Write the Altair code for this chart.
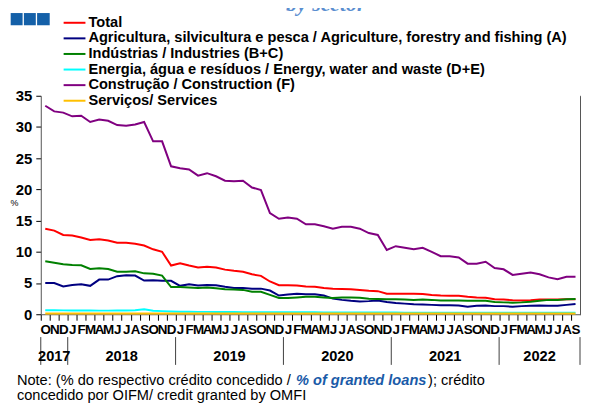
import altair as alt
import pandas as pd

FONT = "Liberation Sans"

month_letters = ["O", "N", "D",
                 "J", "F", "M", "A", "M", "J", "J", "A", "S", "O", "N", "D",
                 "J", "F", "M", "A", "M", "J", "J", "A", "S", "O", "N", "D",
                 "J", "F", "M", "A", "M", "J", "J", "A", "S", "O", "N", "D",
                 "J", "F", "M", "A", "M", "J", "J", "A", "S", "O", "N", "D",
                 "J", "F", "M", "A", "M", "J", "J", "A", "S"]

series_names = [
    "Total",
    "Agricultura, silvicultura e pesca / Agriculture, forestry and fishing (A)",
    "Indústrias / Industries (B+C)",
    "Energia, água e resíduos / Energy, water and waste (D+E)",
    "Construção / Construction  (F)",
    "Serviços/ Services",
]
series_colors = ["#ff0000", "#000080", "#008000", "#00ffff", "#800080", "#ffc000"]

total = [13.7, 13.4, 12.7, 12.6, 12.3, 11.9, 12.0, 11.8, 11.45, 11.45,
         11.3, 11.0, 10.4, 10.0, 7.8, 8.15, 7.8, 7.5, 7.6, 7.5,
         7.15, 6.95, 6.8, 6.4, 6.15, 5.25, 4.66, 4.66, 4.6, 4.45,
         4.4, 4.2, 4.1, 4.05, 4.0, 3.9, 3.75, 3.7, 3.3, 3.3,
         3.3, 3.3, 3.25, 3.1, 3.0, 2.95, 2.95, 2.8, 2.7, 2.65,
         2.4, 2.35, 2.25, 2.2, 2.25, 2.35, 2.35, 2.35, 2.4, 2.4]
agriculture = [5.0, 5.0, 4.45, 4.7, 4.8, 4.55, 5.55, 5.55, 6.1, 6.25,
               6.2, 5.4, 5.45, 5.35, 5.35, 4.55, 4.8, 4.6, 4.7, 4.65,
               4.4, 4.2, 4.2, 4.1, 4.1, 3.8, 3.0, 3.15, 3.3, 3.2,
               3.2, 3.0, 2.5, 2.3, 2.15, 2.05, 2.1, 2.2, 1.95, 1.8,
               1.7, 1.6, 1.55, 1.5, 1.45, 1.45, 1.4, 1.2, 1.35, 1.4,
               1.3, 1.3, 1.2, 1.3, 1.35, 1.4, 1.35, 1.35, 1.5, 1.65]
industries = [8.5, 8.25, 8.0, 7.9, 7.85, 7.25, 7.35, 7.25, 6.8, 6.8,
              6.9, 6.55, 6.5, 6.2, 4.35, 4.35, 4.3, 4.2, 4.3, 4.15,
              4.0, 3.95, 3.9, 3.6, 3.6, 3.1, 2.6, 2.6, 2.7, 2.8,
              2.8, 2.7, 2.6, 2.7, 2.7, 2.65, 2.5, 2.45, 2.4, 2.4,
              2.35, 2.3, 2.35, 2.3, 2.2, 2.2, 2.2, 2.15, 2.15, 2.15,
              1.95, 1.9, 1.85, 1.9, 2.0, 2.15, 2.3, 2.3, 2.4, 2.45]
energy = [0.65, 0.65, 0.62, 0.6, 0.6, 0.6, 0.58, 0.58, 0.6, 0.6,
          0.65, 0.8, 0.55, 0.5, 0.45, 0.4, 0.4, 0.38, 0.38, 0.35,
          0.35, 0.35, 0.33, 0.32, 0.3, 0.3, 0.3, 0.3, 0.3, 0.3,
          0.3, 0.28, 0.28, 0.28, 0.28, 0.28, 0.27, 0.27, 0.27, 0.27,
          0.25, 0.25, 0.25, 0.25, 0.25, 0.25, 0.25, 0.25, 0.25, 0.25,
          0.22, 0.22, 0.22, 0.22, 0.22, 0.22, 0.22, 0.22, 0.22, 0.22]
construction = [33.4, 32.5, 32.3, 31.7, 31.8, 30.8, 31.2, 31.0, 30.3, 30.2,
                30.4, 30.8, 27.7, 27.7, 23.7, 23.4, 23.2, 22.2, 22.6, 22.1,
                21.4, 21.3, 21.4, 20.3, 19.9, 16.2, 15.3, 15.5, 15.3, 14.4,
                14.4, 14.1, 13.7, 14.0, 14.0, 13.7, 13.0, 12.7, 10.3, 10.9,
                10.65, 10.4, 10.65, 10.0, 9.3, 9.3, 9.1, 8.1, 8.1, 8.4,
                7.4, 7.2, 6.3, 6.5, 6.7, 6.4, 5.9, 5.6, 6.0, 6.0]
services = [0.1, 0.1, 0.1, 0.1, 0.1, 0.1, 0.1, 0.1, 0.1, 0.1,
            0.1, 0.1, 0.1, 0.1, 0.1, 0.1, 0.1, 0.1, 0.1, 0.1,
            0.1, 0.1, 0.1, 0.1, 0.1, 0.1, 0.1, 0.1, 0.1, 0.1,
            0.1, 0.1, 0.1, 0.1, 0.1, 0.1, 0.1, 0.1, 0.1, 0.1,
            0.1, 0.1, 0.1, 0.1, 0.1, 0.1, 0.1, 0.1, 0.1, 0.1,
            0.1, 0.1, 0.1, 0.1, 0.1, 0.1, 0.1, 0.1, 0.1, 0.1]

year_labels = ["2017", "2018", "2019", "2020", "2021", "2022"]
year_centers = [1, 8.5, 20.5, 32.5, 44.5, 55]
year_bounds = [-0.5, 2.5, 14.5, 26.5, 38.5, 50.5, 59.5]

all_series = [total, agriculture, industries, energy, construction, services]
rows = []
for k, (name, vals) in enumerate(zip(series_names, all_series)):
    for i, v in enumerate(vals):
        rows.append({"i": i, "v": v, "series": name, "k": k})
df = pd.DataFrame(rows)

W, H = 540, 220
XR = 543
xscale = alt.Scale(domain=[-0.5, 59.5], range=[0, XR], nice=False, zero=False)
yscale = alt.Scale(domain=[0, 35], nice=False)

label_expr = "[" + ",".join("'%s'" % m for m in month_letters) + "][datum.value]"

x_axis = alt.Axis(values=list(range(60)), labelExpr=label_expr, title=None,
                  grid=False, labelAngle=0, labelOverlap=False, labelBound=False,
                  labelFlush=False, labelFont=FONT, labelFontSize=13.5,
                  labelFontWeight="bold", labelColor="#000000",
                  tickSize=6, tickOffset=-4.5, labelOffset=4.5, labelPadding=2,
                  tickColor="#000000", domainColor="#555555")

y_values = [0, 5, 10, 15, 20, 25, 30, 35]
y_axis = alt.Axis(values=y_values, grid=False, title="%",
                  titleAngle=0, titleX=-27, titleY=113, titleFont=FONT,
                  titleFontSize=9, titleFontWeight="normal", titleColor="#000000",
                  labelFont=FONT, labelFontSize=15, labelFontWeight="bold",
                  labelColor="#000000", tickSize=5, labelPadding=4,
                  tickColor="#000000", domainColor="#555555")

lines = alt.Chart(df).mark_line(strokeWidth=2).encode(
    x=alt.X("i:Q", scale=xscale, axis=x_axis),
    y=alt.Y("v:Q", scale=yscale, axis=y_axis),
    color=alt.Color("series:N",
                    scale=alt.Scale(domain=series_names, range=series_colors),
                    legend=alt.Legend(orient="none", legendX=26, legendY=-81.5,
                                      title=None, symbolType="M-1.57,0H1.57",
                                      symbolSize=196, symbolStrokeWidth=2,
                                      labelFont=FONT, labelFontSize=14.7,
                                      labelFontWeight="bold", labelColor="#000000",
                                      labelLimit=700, labelOffset=6, rowPadding=0.7,
                                      padding=0)),
    detail="k:O",
)

right_axis = alt.Chart(df).mark_line(strokeOpacity=0).encode(
    x=alt.X("i:Q", scale=xscale, axis=x_axis),
    y=alt.Y("v:Q", scale=yscale,
            axis=alt.Axis(orient="right", values=y_values, offset=3,
                          labels=False, title=None, grid=False, tickSize=5,
                          tickColor="#000000", domainColor="#555555")),
)

sep_df = pd.DataFrame({"b": year_bounds})
separators = alt.Chart(sep_df).mark_rule(color="#404040", strokeWidth=1).encode(
    x=alt.X("b:Q", scale=xscale, axis=x_axis),
    y=alt.value(243), y2=alt.value(271),
)

yr_df = pd.DataFrame({"c": year_centers, "label": year_labels})
years = alt.Chart(yr_df).mark_text(font=FONT, fontSize=14.7, fontWeight="bold",
                                   baseline="middle", color="#000000").encode(
    x=alt.X("c:Q", scale=xscale, axis=x_axis),
    y=alt.value(263),
    text="label:N",
)

one = pd.DataFrame({"a": [0]})
squares = []
for x0, x1 in [(-30.3, -18.3), (-17, -5), (-3.7, 9)]:
    squares.append(alt.Chart(one).mark_rect(color="#1460a8").encode(
        x=alt.value(x0), x2=alt.value(x1), y=alt.value(-83.3), y2=alt.value(-71)))

subtitle = alt.Chart(one).mark_text(font="Liberation Serif", fontSize=22,
                                    fontStyle="italic", fontWeight="bold",
                                    color="#5a8ed0", baseline="alphabetic",
                                    align="center").encode(
    x=alt.value(287), y=alt.value(-85), text=alt.value("by sector"))

NOTE_FS = 14.7
note_style = dict(font=FONT, fontSize=NOTE_FS, baseline="alphabetic", align="left",
                  color="#000000")
note1 = alt.Chart(one).mark_text(**note_style).encode(
    x=alt.value(-24), y=alt.value(291),
    text=alt.value("Note: (% do respectivo crédito concedido / "))
note2 = alt.Chart(one).mark_text(font=FONT, fontSize=NOTE_FS, baseline="alphabetic",
                                 align="left", color="#1a5ba8", fontStyle="italic",
                                 fontWeight="bold").encode(
    x=alt.value(257), y=alt.value(291), text=alt.value("% of granted loans"))
note3 = alt.Chart(one).mark_text(**note_style).encode(
    x=alt.value(390), y=alt.value(291), text=alt.value("); crédito"))
note4 = alt.Chart(one).mark_text(**note_style).encode(
    x=alt.value(-24), y=alt.value(306),
    text=alt.value("concedido por OIFM/ credit granted by OMFI"))

chart = alt.layer(lines, right_axis, separators, years, *squares, subtitle,
                  note1, note2, note3, note4).resolve_axis(y="independent").properties(
    width=W, height=H,
    padding={"left": 33, "top": 87, "right": 4, "bottom": 88},
    autosize=alt.AutoSizeParams(type="none"),
).configure_view(stroke=None)

chart.save("out.html", embed_options={"renderer": "svg", "actions": False})
